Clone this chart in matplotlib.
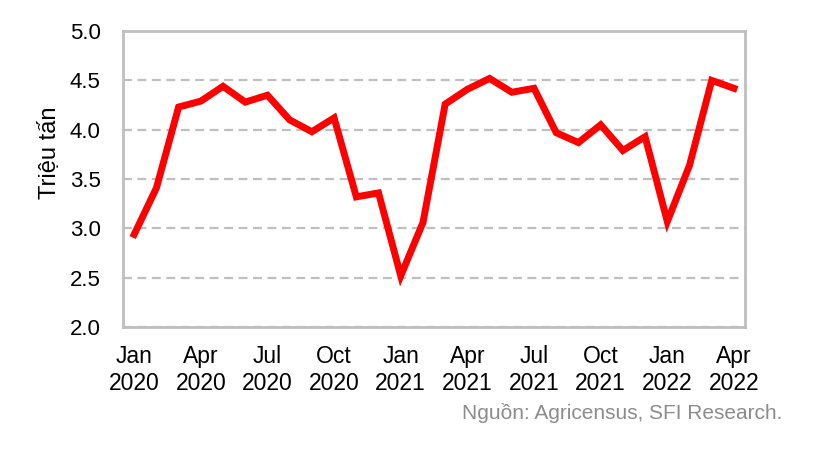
import matplotlib.pyplot as plt
import numpy as np

plt.rcParams["font.family"] = ["Liberation Sans", "DejaVu Sans"]

months = ["Jan", "Feb", "Mar", "Apr", "May", "Jun", "Jul", "Aug", "Sep", "Oct", "Nov", "Dec"]
labels = [f"{m} {y}" for y in (2020, 2021, 2022) for m in months][:28]

values = [
    2.94, 3.41, 4.23, 4.29, 4.44, 4.28, 4.35, 4.10, 3.98, 4.12, 3.32, 3.36,
    2.52, 3.06, 4.26, 4.41, 4.52, 4.38, 4.42, 3.97, 3.87, 4.05, 3.79, 3.93,
    3.07, 3.64, 4.50, 4.42,
]

tick_idx = list(range(0, 28, 3))
tick_text = [labels[i].replace(" ", "\n") for i in tick_idx]

fig = plt.figure(figsize=(8.26, 4.5), dpi=100)
ax = fig.add_axes([0.149, 0.273, 0.753, 0.658])

x = np.arange(len(values))
ax.plot(x, values, color="#ff0000", linewidth=5, solid_joinstyle="miter", zorder=3)

ax.set_xlim(-0.5, len(values) - 0.5)
ax.set_ylim(2.0, 5.0)
ax.set_yticks(np.arange(2.0, 5.01, 0.5))
ax.set_yticklabels([f"{v:.1f}" for v in np.arange(2.0, 5.01, 0.5)])
ax.set_xticks(tick_idx)
ax.set_xticklabels(tick_text, linespacing=1.22)
ax.tick_params(axis="both", length=0, colors="black")
ax.tick_params(axis="y", pad=16, labelsize=16)
ax.tick_params(axis="x", pad=13, labelsize=16.5)

ax.grid(axis="y", color="#bfbfbf", linestyle=(0, (4, 2.5)), linewidth=1.6)
ax.set_axisbelow(True)
for sp in ax.spines.values():
    sp.set_color("#bfbfbf")
    sp.set_linewidth(2)

ax.set_ylabel("Triệu tấn", fontsize=17, va="center")
ax.yaxis.set_label_coords(-0.117, 0.59)

fig.text(0.947, 0.082, "Nguồn: Agricensus, SFI Research.", ha="right", va="center",
         fontsize=15, color="#8c8c8c")

fig.savefig("out.png", dpi=100)
